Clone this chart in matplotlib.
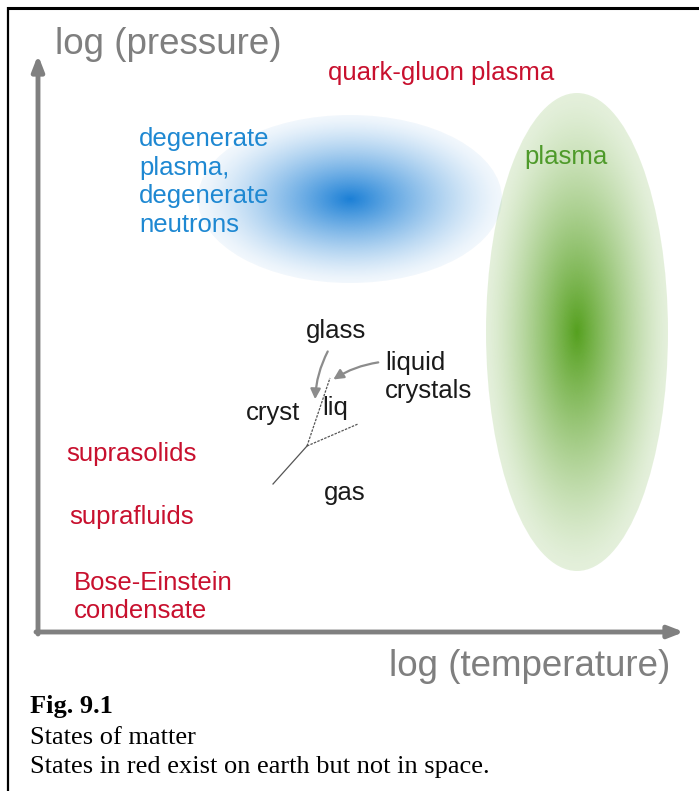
import numpy as np
import matplotlib
matplotlib.use("Agg")
import matplotlib.pyplot as plt
from matplotlib.patches import Ellipse, FancyArrowPatch

# canvas in pixel units (y grows downwards)
W, H = 699, 791

# gradient blobs: centre x, centre y, width, height, colour
blob_names = ["degenerate", "plasma"]
blob_cx = [350, 577]
blob_cy = [199, 332]
blob_w = [304, 182]
blob_h = [168, 478]
blob_colors = ["#1a7fd6", "#55a01e"]
blob_edge_alpha = [0.06, 0.16]

# state labels
labels = ["quark-gluon plasma", "degenerate\nplasma,\ndegenerate\nneutrons", "plasma",
          "glass", "liquid\ncrystals", "cryst", "liq", "gas",
          "suprasolids", "suprafluids", "Bose-Einstein\ncondensate"]
label_x = [328, 139, 524, 306, 385, 246, 322, 324, 66, 69, 74]
label_y = [73, 182, 157, 331, 377, 413, 408, 493, 454, 517, 597]
label_colors = ["#c8102e", "#1e88d2", "#4e9a2a", "#1a1a1a", "#1a1a1a", "#1a1a1a",
                "#1a1a1a", "#1a1a1a", "#c8102e", "#c8102e", "#c8102e"]

# phase boundaries
solid_line_x = [273, 307]
solid_line_y = [484, 446]
dash_line1_x = [307, 330]
dash_line1_y = [446, 378]
dash_line2_x = [307, 358]
dash_line2_y = [446, 424]

caption = ["Fig. 9.1", "States of matter", "States in red exist on earth but not in space."]
caption_x = 30
caption_y = [707, 738, 767]

fig = plt.figure(figsize=(W / 100, H / 100), dpi=100)
ax = fig.add_axes([0, 0, 1, 1])
ax.set_xlim(0, W)
ax.set_ylim(H, 0)
ax.axis("off")

# radial gradient ellipses
for cx, cy, w, h, col, ea in zip(blob_cx, blob_cy, blob_w, blob_h, blob_colors, blob_edge_alpha):
    x0, x1 = cx - w / 2, cx + w / 2
    y0, y1 = cy - h / 2, cy + h / 2
    xs = np.linspace(-1, 1, 400)
    ys = np.linspace(-1, 1, 400)
    gx, gy = np.meshgrid(xs, ys)
    r = np.clip(np.sqrt(gx ** 2 + gy ** 2), 0, 1)
    alpha = ea + (1 - ea) * (1 - r) ** 1.3
    rgba = np.zeros((400, 400, 4))
    rgba[..., :3] = matplotlib.colors.to_rgb(col)
    rgba[..., 3] = alpha
    im = ax.imshow(rgba, extent=[x0, x1, y1, y0], interpolation="bilinear", zorder=1)
    clip = Ellipse((cx, cy), w, h, transform=ax.transData, facecolor="none", edgecolor="none")
    ax.add_patch(clip)
    im.set_clip_path(clip)

ax.set_xlim(0, W)
ax.set_ylim(H, 0)

# axes arrows
ax.annotate("", xy=(38, 55), xytext=(38, 634),
            arrowprops=dict(arrowstyle="-|>,head_width=0.35,head_length=0.9",
                            color="#808080", lw=3.5, shrinkA=0, shrinkB=0))
ax.annotate("", xy=(684, 632), xytext=(36, 632),
            arrowprops=dict(arrowstyle="-|>,head_width=0.35,head_length=0.9",
                            color="#808080", lw=3.5, shrinkA=0, shrinkB=0))

ax.text(55, 45, "log (pressure)", fontsize=26.5, color="#7f7f7f",
        family="Liberation Sans", ha="left", va="center")
ax.text(670, 666, "log (temperature)", fontsize=26.5, color="#7f7f7f",
        family="Liberation Sans", ha="right", va="center")

for txt, x, y, c in zip(labels, label_x, label_y, label_colors):
    ax.text(x, y, txt, fontsize=18.5, color=c, family="Liberation Sans",
            ha="left", va="center", linespacing=1.25, zorder=5)

# phase diagram lines
ax.plot(solid_line_x, solid_line_y, color="#555555", lw=0.9, zorder=4)
ax.plot(dash_line1_x, dash_line1_y, color="#555555", lw=0.9, ls=(0, (2, 1)), zorder=4)
ax.plot(dash_line2_x, dash_line2_y, color="#555555", lw=0.9, ls=(0, (2, 1)), zorder=4)

# pointer arrows
ax.add_patch(FancyArrowPatch((329, 349), (315, 402), connectionstyle="arc3,rad=0.12",
                             arrowstyle="-|>,head_width=3,head_length=6",
                             color="#8c8c8c", lw=1.6, zorder=4))
ax.add_patch(FancyArrowPatch((381, 362), (331, 381), connectionstyle="arc3,rad=0.12",
                             arrowstyle="-|>,head_width=3,head_length=6",
                             color="#8c8c8c", lw=1.6, zorder=4))

# frame lines (top and left)
ax.plot([7, W], [8, 8], color="black", lw=2.2, zorder=6, solid_capstyle="butt")
ax.plot([8, 8], [7, H], color="black", lw=1.6, zorder=6, solid_capstyle="butt")

ax.text(caption_x, caption_y[0], caption[0], fontsize=19, fontweight="bold",
        family="Liberation Serif", ha="left", va="center")
for txt, y in zip(caption[1:], caption_y[1:]):
    ax.text(caption_x, y, txt, fontsize=19, family="Liberation Serif", ha="left", va="center")

fig.savefig("out.png", dpi=100)
